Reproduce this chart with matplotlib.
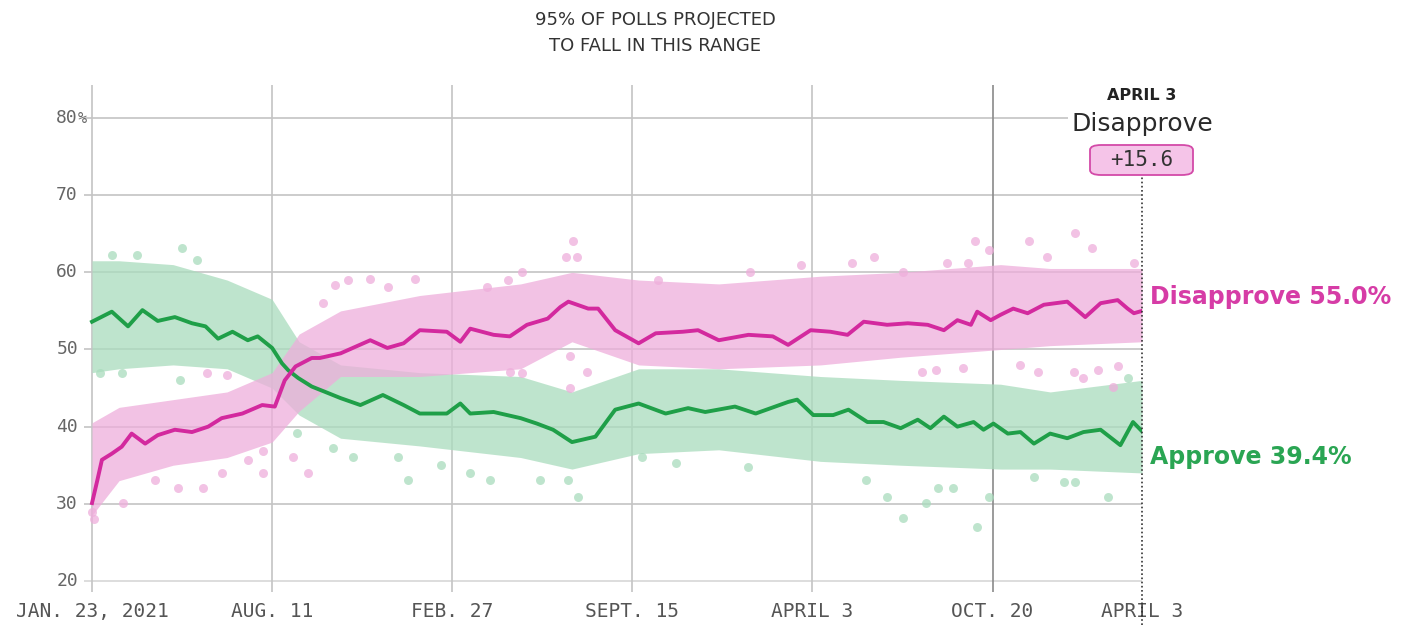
import numpy as np
import pandas as pd
import matplotlib.pyplot as plt
from matplotlib.patches import FancyBboxPatch

# ---------------- data ----------------
START = pd.Timestamp("2021-01-23")

# approve trend line: days since Jan 23 2021, percent
approve_days = [0, 22, 40, 56, 73, 92, 111, 126, 140, 156, 173, 184, 200, 211, 218,
                229, 244, 259, 276, 298, 323, 346, 364, 394, 409, 420, 446, 476,
                494, 512, 533, 559, 581, 607, 637, 662, 681, 714, 737, 773, 783,
                801, 823, 840, 861, 879, 898, 917, 931, 946, 961, 979, 990, 1001,
                1017, 1031, 1046, 1064, 1083, 1101, 1120, 1142, 1156, 1166]
approve_vals = [53.6, 54.9, 53.0, 55.1, 53.7, 54.2, 53.4, 53.0, 51.4, 52.3, 51.2, 51.7,
                50.2, 48.2, 47.3, 46.3, 45.2, 44.5, 43.7, 42.8, 44.1, 42.8, 41.7, 41.7,
                43.0, 41.7, 41.9, 41.1, 40.4, 39.6, 38.0, 38.7, 42.2, 43.0, 41.7, 42.4,
                41.9, 42.6, 41.7, 43.2, 43.5, 41.5, 41.5, 42.2, 40.6, 40.6, 39.8, 40.9,
                39.8, 41.3, 40.0, 40.6, 39.6, 40.4, 39.1, 39.3, 37.8, 39.1, 38.5, 39.3,
                39.6, 37.6, 40.6, 39.4]

disapprove_days = [0, 6, 11, 22, 33, 44, 59, 73, 92, 111, 129, 144, 167, 189, 203, 214,
                   226, 244, 253, 276, 309, 328, 346, 364, 394, 409, 420, 446, 464,
                   483, 506, 520, 529, 551, 562, 581, 607, 626, 656, 673, 696, 729,
                   756, 773, 798, 820, 839, 857, 883, 906, 928, 946, 961, 976, 983,
                   998, 1009, 1023, 1039, 1057, 1083, 1103, 1120, 1139, 1150, 1157, 1166]
disapprove_vals = [30.1, 33.1, 35.7, 36.5, 37.4, 39.1, 37.8, 38.9, 39.6, 39.3, 40.0, 41.1,
                   41.7, 42.8, 42.6, 46.0, 47.8, 48.9, 48.9, 49.5, 51.2, 50.2, 50.8, 52.5,
                   52.3, 51.0, 52.7, 51.9, 51.7, 53.2, 54.0, 55.5, 56.2, 55.3, 55.3, 52.5,
                   50.8, 52.1, 52.3, 52.5, 51.2, 51.9, 51.7, 50.6, 52.5, 52.3, 51.9, 53.6,
                   53.2, 53.4, 53.2, 52.5, 53.8, 53.2, 54.9, 53.8, 54.5, 55.3, 54.7, 55.8,
                   56.2, 54.2, 56.0, 56.4, 55.3, 54.7, 55.0]

# 95% poll ranges
band_days = [0, 30, 90, 150, 200, 230, 276, 364, 476, 533, 607, 696, 809, 898, 1009, 1064, 1166]
approve_hi = [61.5, 61.5, 61, 59, 56.5, 51, 48, 47, 46.5, 44.5, 47.5, 47.5, 46.5, 46, 45.5, 44.5, 46]
approve_lo = [47, 47.5, 48, 47.5, 45, 41.5, 38.5, 37.5, 36, 34.5, 36.5, 37, 35.5, 35, 34.5, 34.5, 34]
disapprove_hi = [40.5, 42.5, 43.5, 44.5, 47, 52, 55, 57, 58.5, 60, 59, 58.5, 59.5, 60, 61, 60.5, 60.5]
disapprove_lo = [28.5, 33, 35, 36, 38, 42, 46.5, 46.5, 47.5, 51, 48, 47.5, 48, 49, 50, 50.5, 51]

# individual polls outside the dense range
approve_poll_days = [22, 50, 100, 117, 9, 33, 98, 228, 268, 290, 340, 351, 387, 420, 442,
                     498, 529, 540, 611, 648, 729, 859, 883, 901, 926, 940, 956, 983,
                     996, 1046, 1079, 1092, 1128, 1150]
approve_poll_vals = [62.2, 62.2, 63.1, 61.6, 47.0, 47.0, 46.0, 39.2, 37.2, 36.1, 36.1, 33.1,
                     35.0, 34.0, 33.1, 33.1, 33.1, 30.9, 36.1, 35.3, 34.8, 33.1, 30.9, 28.2,
                     30.1, 32.0, 32.0, 27.0, 30.9, 33.5, 32.8, 32.8, 30.9, 46.3]
disapprove_poll_days = [34, 70, 96, 123, 144, 173, 190, 190, 223, 240, 128, 150, 256, 270,
                        284, 309, 329, 359, 439, 462, 478, 526, 534, 539, 629, 731, 787,
                        844, 868, 901, 950, 973, 981, 996, 1040, 1061, 1092, 1111, 1157,
                        464, 478, 531, 550, 531, 922, 937, 967, 1031, 1050, 1090, 1101,
                        1117, 1134, 1139, 0, 2]
disapprove_poll_vals = [30.1, 33.1, 32.0, 32.0, 34.0, 35.7, 36.8, 34.0, 36.1, 34.0, 47.0,
                        46.7, 56.0, 58.4, 59.0, 59.2, 58.1, 59.2, 58.1, 59.0, 60.1, 62.0,
                        64.1, 62.0, 59.0, 60.1, 60.9, 61.2, 62.0, 60.1, 61.2, 61.2, 64.0,
                        62.9, 64.0, 62.0, 65.1, 63.1, 61.2, 47.1, 47.0, 49.1, 47.1, 45.0,
                        47.1, 47.3, 47.6, 48.0, 47.1, 47.1, 46.3, 47.3, 45.2, 47.8, 29.0, 28.0]

tick_days = [0, 200, 400, 600, 800, 1000, 1166]
tick_labels = ["JAN. 23, 2021", "AUG. 11", "FEB. 27", "SEPT. 15", "APRIL 3", "OCT. 20", "APRIL 3"]
y_ticks = [20, 30, 40, 50, 60, 70, 80]


def to_dates(days):
    return START + pd.to_timedelta(days, unit="D")


PINK = "#d3299e"
GREEN = "#1f9f48"
PINK_DOT = "#eeaedb"
GREEN_DOT = "#a9dcbd"

W, H = 1407, 625

# ---------------- figure ----------------
fig = plt.figure(figsize=(W / 100, H / 100), dpi=100)
ax = fig.add_axes([84 / W, 1 - 592 / H, (1142 - 84) / W, (592 - 85) / H])

end = to_dates([1166])[0]
ax.set_xlim(to_dates([-8.9])[0], end)
ax.set_ylim(18.57, 84.28)

for s in ax.spines.values():
    s.set_visible(False)
ax.set_xticks([])
ax.set_yticks([])

# grid
for v in y_ticks:
    ax.axhline(v, color="#dddddd" if v == 20 else "#cccccc", lw=1.4, zorder=0)
for i, d in enumerate(tick_days[:-1]):
    col = "#8a8a8a" if i == 5 else "#c4c4c4"
    ax.axvline(to_dates([d])[0], color=col, lw=1.2, zorder=0)

# 95% bands
ax.fill_between(to_dates(band_days), approve_lo, approve_hi, color=GREEN_DOT,
                alpha=0.75, lw=0, zorder=1)
ax.fill_between(to_dates(band_days), disapprove_lo, disapprove_hi, color=PINK_DOT,
                alpha=0.75, lw=0, zorder=1)

# polls
ax.scatter(to_dates(approve_poll_days), approve_poll_vals, s=42, color=GREEN_DOT,
           alpha=0.75, lw=0, zorder=2)
ax.scatter(to_dates(disapprove_poll_days), disapprove_poll_vals, s=42, color=PINK_DOT,
           alpha=0.75, lw=0, zorder=2)

# trend lines
ax.plot(to_dates(approve_days), approve_vals, color=GREEN, lw=2.8, zorder=4)
ax.plot(to_dates(disapprove_days), disapprove_vals, color=PINK, lw=2.8, zorder=4)

# dotted marker at the latest date
ax.plot([end, end], [14.3, 72.4], color="#333333", lw=1.2, ls=(0, (1, 1.5)),
        clip_on=False, zorder=5)

# tick labels
for d, lab in zip(tick_days, tick_labels):
    ax.text(to_dates([d])[0], 16.0, lab, ha="center", va="center", fontsize=14,
            family="DejaVu Sans Mono", color="#555555", clip_on=False)
for v in y_ticks:
    ax.text(-0.0057, v, str(v), transform=ax.get_yaxis_transform(), ha="right",
            va="center", fontsize=13, family="DejaVu Sans Mono", color="#666666")
ax.text(-0.0062, 80, "%", transform=ax.get_yaxis_transform(), ha="left",
        va="center", fontsize=11, family="DejaVu Sans Mono", color="#666666")

# end labels
ax.text(1.0075, 56.8, "Disapprove 55.0%", transform=ax.get_yaxis_transform(),
        ha="left", va="center", fontsize=17, fontweight="bold", color="#d63ca6",
        clip_on=False)
ax.text(1.0075, 36.1, "Approve 39.4%", transform=ax.get_yaxis_transform(),
        ha="left", va="center", fontsize=17, fontweight="bold", color="#2aa553",
        clip_on=False)

# top-right callout
fig.text(1142 / W, 1 - 95 / H, "APRIL 3", ha="center", va="center",
         fontsize=11.5, fontweight="bold", color="#222222")
fig.text(1142 / W, 1 - 124 / H, "Disapprove", ha="center", va="center",
         fontsize=18, color="#2a2a2a",
         bbox=dict(boxstyle="square,pad=0.12", fc="white", ec="none"))
fig.patches.append(FancyBboxPatch((1090 / W, 1 - 175 / H), 103 / W, 30 / H,
                                  boxstyle="round,pad=0,rounding_size=0.008",
                                  transform=fig.transFigure, fc="#f5c4e8",
                                  ec="#d34aa8", lw=1.3, zorder=6))
fig.text(1142 / W, 1 - 160 / H, "+15.6", ha="center", va="center",
         fontsize=15, family="DejaVu Sans Mono", color="#333333", zorder=7)

# range note
fig.text(655 / W, 1 - 20 / H, "95% OF POLLS PROJECTED", ha="center", va="center",
         fontsize=13, color="#333333")
fig.text(655 / W, 1 - 46 / H, "TO FALL IN THIS RANGE", ha="center", va="center",
         fontsize=13, color="#333333")

fig.savefig("out.png", dpi=100)
